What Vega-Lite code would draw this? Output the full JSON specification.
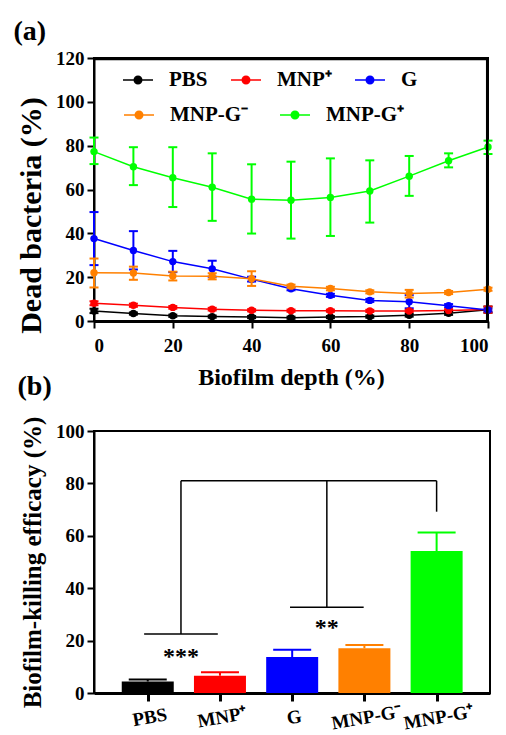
{
  "$schema": "https://vega.github.io/schema/vega-lite/v6.json",
  "background": "white",
  "padding": {"left": 12, "top": 17, "right": 5, "bottom": 0},
  "autosize": {"type": "pad"},
  "bounds": "flush",
  "spacing": 110,
  "config": {
    "font": "Liberation Serif",
    "view": {"stroke": "black", "strokeWidth": 2},
    "axis": {
      "domainColor": "black", "domainWidth": 2, "tickColor": "black", "tickWidth": 2, "tickSize": 7,
      "labelFont": "Liberation Serif", "labelFontWeight": "bold", "labelColor": "black", "labelFontSize": 19,
      "titleFont": "Liberation Serif", "titleFontWeight": "bold", "titleColor": "black", "grid": false, "labelPadding": 3, "labelOverlap": false
    },
    "legend": {
      "labelFont": "Liberation Serif", "labelFontWeight": "bold", "labelFontSize": 21, "labelColor": "black", "labelOffset": 15,
      "symbolSize": 900, "symbolStrokeWidth": 1.5, "padding": 0
    },
    "title": {"font": "Liberation Serif", "fontWeight": "bold", "fontSize": 28, "color": "black", "anchor": "start", "frame": "bounds"}
  },
  "vconcat": [
    {
      "title": {"text": "(a)", "offset": 3, "dx": -3},
      "width": 394,
      "height": 263,
      "view": {"stroke": "black", "strokeWidth": 2},
      "resolve": {"scale": {"color": "shared"}, "legend": {"color": "independent"}},
      "layer": [
        {
          "data": {"values": [
            {"depth": 0, "group": "PBS", "mean": 4.6, "lo": 3.6, "hi": 5.6},
            {"depth": 10, "group": "PBS", "mean": 3.4, "lo": 2.9, "hi": 3.9},
            {"depth": 20, "group": "PBS", "mean": 2.4, "lo": 1.9, "hi": 2.9},
            {"depth": 30, "group": "PBS", "mean": 2.0, "lo": 1.5, "hi": 2.5},
            {"depth": 40, "group": "PBS", "mean": 1.8, "lo": 1.3, "hi": 2.3},
            {"depth": 50, "group": "PBS", "mean": 1.5, "lo": 1.0, "hi": 2.0},
            {"depth": 60, "group": "PBS", "mean": 1.8, "lo": 1.3, "hi": 2.3},
            {"depth": 70, "group": "PBS", "mean": 2.0, "lo": 1.5, "hi": 2.5},
            {"depth": 80, "group": "PBS", "mean": 2.6, "lo": 2.0, "hi": 3.2},
            {"depth": 90, "group": "PBS", "mean": 3.5, "lo": 2.8, "hi": 4.2},
            {"depth": 100, "group": "PBS", "mean": 5.1, "lo": 3.8, "hi": 6.6},
            {"depth": 0, "group": "MNP⁺", "mean": 8.1, "lo": 7.2, "hi": 9.0},
            {"depth": 10, "group": "MNP⁺", "mean": 7.2, "lo": 6.5, "hi": 7.9},
            {"depth": 20, "group": "MNP⁺", "mean": 6.2, "lo": 5.6, "hi": 6.8},
            {"depth": 30, "group": "MNP⁺", "mean": 5.4, "lo": 4.8, "hi": 6.0},
            {"depth": 40, "group": "MNP⁺", "mean": 4.9, "lo": 4.4, "hi": 5.4},
            {"depth": 50, "group": "MNP⁺", "mean": 4.7, "lo": 4.2, "hi": 5.2},
            {"depth": 60, "group": "MNP⁺", "mean": 4.7, "lo": 4.2, "hi": 5.2},
            {"depth": 70, "group": "MNP⁺", "mean": 4.6, "lo": 4.1, "hi": 5.1},
            {"depth": 80, "group": "MNP⁺", "mean": 4.6, "lo": 4.1, "hi": 5.1},
            {"depth": 90, "group": "MNP⁺", "mean": 4.8, "lo": 4.2, "hi": 5.4},
            {"depth": 100, "group": "MNP⁺", "mean": 5.2, "lo": 3.8, "hi": 6.6},
            {"depth": 0, "group": "G", "mean": 37.6, "lo": 25.5, "hi": 49.7},
            {"depth": 10, "group": "G", "mean": 32.2, "lo": 23.5, "hi": 41.0},
            {"depth": 20, "group": "G", "mean": 27.1, "lo": 22.3, "hi": 32.0},
            {"depth": 30, "group": "G", "mean": 23.8, "lo": 20.2, "hi": 27.5},
            {"depth": 40, "group": "G", "mean": 19.1, "lo": 18.0, "hi": 20.2},
            {"depth": 50, "group": "G", "mean": 14.7, "lo": 14.0, "hi": 15.4},
            {"depth": 60, "group": "G", "mean": 11.7, "lo": 11.0, "hi": 12.4},
            {"depth": 70, "group": "G", "mean": 9.4, "lo": 8.7, "hi": 10.1},
            {"depth": 80, "group": "G", "mean": 8.8, "lo": 5.8, "hi": 11.8},
            {"depth": 90, "group": "G", "mean": 7.0, "lo": 6.3, "hi": 7.7},
            {"depth": 100, "group": "G", "mean": 5.0, "lo": 4.4, "hi": 5.6},
            {"depth": 0, "group": "MNP-G⁻", "mean": 22.0, "lo": 15.3, "hi": 28.5},
            {"depth": 10, "group": "MNP-G⁻", "mean": 21.9, "lo": 18.8, "hi": 24.8},
            {"depth": 20, "group": "MNP-G⁻", "mean": 20.5, "lo": 18.5, "hi": 22.5},
            {"depth": 30, "group": "MNP-G⁻", "mean": 20.4, "lo": 19.0, "hi": 21.8},
            {"depth": 40, "group": "MNP-G⁻", "mean": 19.3, "lo": 16.0, "hi": 22.7},
            {"depth": 50, "group": "MNP-G⁻", "mean": 15.9, "lo": 15.2, "hi": 16.6},
            {"depth": 60, "group": "MNP-G⁻", "mean": 14.8, "lo": 14.0, "hi": 15.6},
            {"depth": 70, "group": "MNP-G⁻", "mean": 13.3, "lo": 12.6, "hi": 14.0},
            {"depth": 80, "group": "MNP-G⁻", "mean": 12.6, "lo": 10.7, "hi": 14.2},
            {"depth": 90, "group": "MNP-G⁻", "mean": 13.0, "lo": 12.3, "hi": 13.7},
            {"depth": 100, "group": "MNP-G⁻", "mean": 14.5, "lo": 13.8, "hi": 15.2},
            {"depth": 0, "group": "MNP-G⁺", "mean": 77.3, "lo": 71.6, "hi": 83.7},
            {"depth": 10, "group": "MNP-G⁺", "mean": 70.4, "lo": 62.0, "hi": 79.3},
            {"depth": 20, "group": "MNP-G⁺", "mean": 65.4, "lo": 52.0, "hi": 79.3},
            {"depth": 30, "group": "MNP-G⁺", "mean": 61.0, "lo": 45.7, "hi": 76.5},
            {"depth": 40, "group": "MNP-G⁺", "mean": 55.6, "lo": 39.9, "hi": 71.5},
            {"depth": 50, "group": "MNP-G⁺", "mean": 55.1, "lo": 37.6, "hi": 72.7},
            {"depth": 60, "group": "MNP-G⁺", "mean": 56.4, "lo": 38.8, "hi": 74.2},
            {"depth": 70, "group": "MNP-G⁺", "mean": 59.3, "lo": 44.9, "hi": 73.3},
            {"depth": 80, "group": "MNP-G⁺", "mean": 66.1, "lo": 57.1, "hi": 75.3},
            {"depth": 90, "group": "MNP-G⁺", "mean": 73.1, "lo": 70.1, "hi": 76.5},
            {"depth": 100, "group": "MNP-G⁺", "mean": 79.4, "lo": 76.2, "hi": 82.3}
          ]},
          "encoding": {
            "x": {
              "field": "depth", "type": "quantitative",
              "scale": {"domain": [0, 100], "nice": false},
              "axis": {
                "title": "Biofilm depth (%)", "titleFontSize": 24, "titlePadding": 10,
                "values": [0, 10, 20, 30, 40, 50, 60, 70, 80, 90, 100],
                "labelExpr": "datum.value % 20 == 0 ? datum.label : ''",
                "labelPadding": 8, "domainWidth": 3
              }
            }
          },
          "resolve": {"scale": {"color": "shared"}, "legend": {"color": "independent"}},
          "layer": [
            {
              "transform": [{"filter": {"field": "group", "oneOf": ["PBS", "MNP⁺", "G"]}}],
              "encoding": {
                "color": {
                  "field": "group", "type": "nominal",
                  "scale": {"domain": ["PBS", "MNP⁺", "G", "MNP-G⁻", "MNP-G⁺"], "range": ["#000000", "#FF0000", "#0000FF", "#FF8000", "#00FF00"]},
                  "legend": {
                    "title": null, "orient": "none", "legendX": 28, "legendY": 6, "direction": "horizontal", "columnPadding": 20,
                    "values": ["PBS", "MNP⁺", "G"],
                    "symbolType": "M-1,0H1M-0.25,0A0.25,0.25,0,1,1,0.25,0A0.25,0.25,0,1,1,-0.25,0Z"
                  }
                }
              },
              "layer": [
                {
                  "mark": {"type": "line", "strokeWidth": 1.5},
                  "encoding": {"y": {
                    "field": "mean", "type": "quantitative",
                    "scale": {"domain": [0, 120], "nice": false},
                    "axis": {"title": "Dead bacteria (%)", "titleFontSize": 30, "titlePadding": 9, "titleY": 157, "values": [0, 20, 40, 60, 80, 100, 120]}
                  }}
                },
                {"mark": {"type": "rule", "strokeWidth": 2}, "encoding": {"y": {"field": "lo", "type": "quantitative"}, "y2": {"field": "hi"}}},
                {"mark": {"type": "tick", "orient": "horizontal", "size": 9, "thickness": 2, "opacity": 1}, "encoding": {"y": {"field": "lo", "type": "quantitative"}}},
                {"mark": {"type": "tick", "orient": "horizontal", "size": 9, "thickness": 2, "opacity": 1}, "encoding": {"y": {"field": "hi", "type": "quantitative"}}},
                {"mark": {"type": "point", "filled": true, "size": 55, "opacity": 1}, "encoding": {"y": {"field": "mean", "type": "quantitative"}}}
              ]
            },
            {
              "transform": [{"filter": {"field": "group", "oneOf": ["MNP-G⁻", "MNP-G⁺"]}}],
              "encoding": {
                "color": {
                  "field": "group", "type": "nominal",
                  "scale": {"domain": ["PBS", "MNP⁺", "G", "MNP-G⁻", "MNP-G⁺"], "range": ["#000000", "#FF0000", "#0000FF", "#FF8000", "#00FF00"]},
                  "legend": {
                    "title": null, "orient": "none", "legendX": 29, "legendY": 41, "direction": "horizontal", "columnPadding": 28,
                    "values": ["MNP-G⁻", "MNP-G⁺"],
                    "symbolType": "M-1,0H1M-0.25,0A0.25,0.25,0,1,1,0.25,0A0.25,0.25,0,1,1,-0.25,0Z"
                  }
                }
              },
              "layer": [
                {
                  "mark": {"type": "line", "strokeWidth": 1.5},
                  "encoding": {"y": {
                    "field": "mean", "type": "quantitative",
                    "scale": {"domain": [0, 120], "nice": false},
                    "axis": {"title": "Dead bacteria (%)", "titleFontSize": 30, "titlePadding": 9, "titleY": 157, "values": [0, 20, 40, 60, 80, 100, 120]}
                  }}
                },
                {"mark": {"type": "rule", "strokeWidth": 2}, "encoding": {"y": {"field": "lo", "type": "quantitative"}, "y2": {"field": "hi"}}},
                {"mark": {"type": "tick", "orient": "horizontal", "size": 9, "thickness": 2, "opacity": 1}, "encoding": {"y": {"field": "lo", "type": "quantitative"}}},
                {"mark": {"type": "tick", "orient": "horizontal", "size": 9, "thickness": 2, "opacity": 1}, "encoding": {"y": {"field": "hi", "type": "quantitative"}}},
                {"mark": {"type": "point", "filled": true, "size": 55, "opacity": 1}, "encoding": {"y": {"field": "mean", "type": "quantitative"}}}
              ]
            }
          ]
        },
        {
          "data": {"values": [
            {"x1": 0, "x2": 99.8, "y1": 119.6, "y2": 119.6},
            {"x1": 99.8, "x2": 99.8, "y1": 0, "y2": 119.6}
          ]},
          "mark": {"type": "rule", "strokeWidth": 2.5, "color": "black", "clip": false},
          "encoding": {
            "x": {"field": "x1", "type": "quantitative"},
            "x2": {"field": "x2"},
            "y": {"field": "y1", "type": "quantitative"},
            "y2": {"field": "y2"}
          }
        }
      ]
    },
    {
      "title": {"text": "(b)", "offset": 15, "dx": -3},
      "width": 396,
      "height": 262,
      "view": {"stroke": "black", "strokeWidth": 2},
      "layer": [
        {
          "data": {"values": [
            {"pos": 1, "group": "PBS", "value": 4.4, "hi": 5.2},
            {"pos": 2, "group": "MNP⁺", "value": 6.6, "hi": 7.9},
            {"pos": 3, "group": "G", "value": 13.7, "hi": 16.5},
            {"pos": 4, "group": "MNP-G⁻", "value": 17.1, "hi": 18.3},
            {"pos": 5, "group": "MNP-G⁺", "value": 54.2, "hi": 61.3}
          ]},
          "encoding": {
            "x": {
              "field": "pos", "type": "quantitative",
              "scale": {"domain": [0.325, 5.67], "nice": false, "zero": false},
              "axis": {
                "title": null, "values": [1, 2, 3, 4, 5],
                "labelExpr": "['PBS', 'MNP⁺', 'G', 'MNP-G⁻', 'MNP-G⁺'][datum.value - 1]",
                "labelAngle": -10, "labelAlign": "center", "labelBaseline": "top", "labelPadding": 7,
                "domainWidth": 3, "tickWidth": 3, "tickSize": 8
              }
            }
          },
          "layer": [
            {
              "mark": {"type": "bar", "size": 52},
              "encoding": {
                "y": {
                  "field": "value", "type": "quantitative",
                  "scale": {"domain": [0, 100], "nice": false},
                  "axis": {
                    "title": "Biofilm-killing efficacy (%)", "titleFontSize": 25, "titlePadding": 10,
                    "values": [0, 10, 20, 30, 40, 50, 60, 70, 80, 90, 100],
                    "labelExpr": "datum.value % 20 == 0 ? datum.label : ''",
                    "tickSize": {"condition": {"test": "datum.value % 20 == 0", "value": 7}, "value": 4}
                  }
                },
                "fill": {
                  "field": "group", "type": "nominal", "legend": null,
                  "scale": {"domain": ["PBS", "MNP⁺", "G", "MNP-G⁻", "MNP-G⁺"], "range": ["#000000", "#FF0000", "#0000FF", "#FF8000", "#00FF00"]}
                }
              }
            },
            {
              "mark": {"type": "rule", "strokeWidth": 2},
              "encoding": {
                "y": {"field": "value", "type": "quantitative"},
                "y2": {"field": "hi"},
                "stroke": {
                  "field": "group", "type": "nominal", "legend": null,
                  "scale": {"domain": ["PBS", "MNP⁺", "G", "MNP-G⁻", "MNP-G⁺"], "range": ["#000000", "#FF0000", "#0000FF", "#FF8000", "#00FF00"]}
                }
              }
            },
            {
              "mark": {"type": "tick", "orient": "horizontal", "size": 38, "thickness": 2, "opacity": 1},
              "encoding": {
                "y": {"field": "hi", "type": "quantitative"},
                "fill": {"field": "group", "type": "nominal", "legend": null}
              }
            }
          ]
        },
        {
          "data": {"values": [
            {"x1": 1.46, "x2": 5.0, "y1": 81, "y2": 81},
            {"x1": 1.46, "x2": 1.46, "y1": 22.5, "y2": 81},
            {"x1": 3.48, "x2": 3.48, "y1": 32.7, "y2": 81},
            {"x1": 5.0, "x2": 5.0, "y1": 69.2, "y2": 81},
            {"x1": 0.95, "x2": 1.97, "y1": 22.5, "y2": 22.5},
            {"x1": 2.97, "x2": 3.99, "y1": 32.7, "y2": 32.7}
          ]},
          "mark": {"type": "rule", "strokeWidth": 1.5, "color": "black"},
          "encoding": {
            "x": {"field": "x1", "type": "quantitative"},
            "x2": {"field": "x2"},
            "y": {"field": "y1", "type": "quantitative"},
            "y2": {"field": "y2"}
          }
        },
        {
          "data": {"values": [
            {"x": 1.46, "y": 10.9, "label": "***"},
            {"x": 3.48, "y": 22.3, "label": "**"}
          ]},
          "mark": {"type": "text", "fontSize": 24, "fontWeight": "bold", "baseline": "alphabetic", "align": "center", "color": "black", "font": "Liberation Serif"},
          "encoding": {
            "x": {"field": "x", "type": "quantitative"},
            "y": {"field": "y", "type": "quantitative"},
            "text": {"field": "label"}
          }
        }
      ]
    }
  ]
}
